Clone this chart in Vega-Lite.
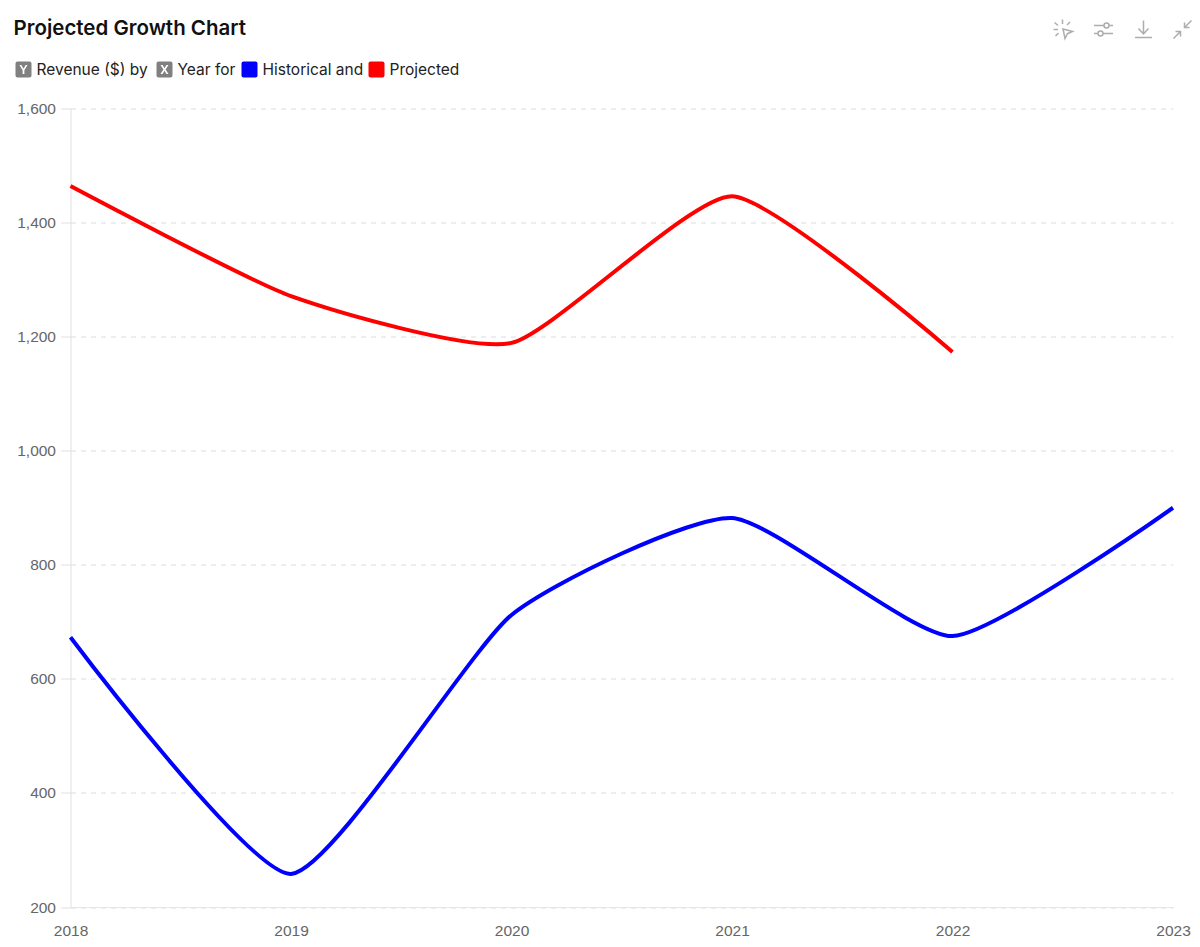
{
"$schema":"https://vega.github.io/schema/vega-lite/v6.json",
"width":1102.5,"height":798.5,
"autosize":{"type":"none"},
"padding":{"left":70.5,"top":108.5,"right":27,"bottom":40},
"background":"white",
"title":{"text":"Projected Growth Chart","anchor":"start","frame":"group","dx":-57,"dy":41,"font":"Inter","fontSize":20.5,"fontWeight":600,"color":"#111111","baseline":"bottom","offset":0},
"config":{"view":{"stroke":null},"font":"Inter"},
"layer":[
{"data":{"values":[
{"year":"2018","revenue":673,"series":"Historical"},
{"year":"2019","revenue":258,"series":"Historical"},
{"year":"2020","revenue":712,"series":"Historical"},
{"year":"2021","revenue":882,"series":"Historical"},
{"year":"2022","revenue":675,"series":"Historical"},
{"year":"2023","revenue":900,"series":"Historical"},
{"year":"2018","revenue":1464,"series":"Projected"},
{"year":"2019","revenue":1271,"series":"Projected"},
{"year":"2020","revenue":1189,"series":"Projected"},
{"year":"2021","revenue":1446,"series":"Projected"},
{"year":"2022","revenue":1173,"series":"Projected"}
]},
"mark":{"type":"line","interpolate":"cardinal","tension":0.45,"strokeWidth":4,"clip":false},
"encoding":{
"x":{"field":"year","type":"ordinal","scale":{"type":"point","padding":0,"domain":["2018","2019","2020","2021","2022","2023"]},
"axis":{"title":null,"labelAngle":0,"ticks":false,"domain":true,"domainColor":"#e6e6e6","grid":false,"labelFont":"Liberation Sans","labelFontSize":15.5,"labelColor":"#666666","labelPadding":16,"labelBound":false,"labelFlush":false,"labelOverlap":false}},
"y":{"field":"revenue","type":"quantitative","scale":{"domain":[200,1600],"nice":false,"zero":false},
"axis":{"title":null,"values":[200,400,600,800,1000,1200,1400,1600],"format":",d","grid":true,"gridColor":"#dcdcdc","gridDash":[5,5],"gridWidth":1,"domain":true,"domainColor":"#e0e0e0","tickColor":"#e0e0e0","tickSize":10,"labelFont":"Liberation Sans","labelFontSize":15.5,"labelColor":"#666666","labelPadding":5}},
"color":{"field":"series","type":"nominal","scale":{"domain":["Historical","Projected"],"range":["#0000ff","#ff0000"]},
"legend":{"title":null,"orient":"none","legendX":171,"legendY":-47,"direction":"horizontal","gridAlign":"none","columns":2,"symbolType":"M-0.75,-1 L0.75,-1 Q1,-1 1,-0.75 L1,0.75 Q1,1 0.75,1 L-0.75,1 Q-1,1 -1,0.75 L-1,-0.75 Q-1,-1 -0.75,-1 Z","symbolSize":256,"symbolStrokeWidth":0,"labelFont":"Inter","labelFontSize":15.5,"labelColor":"#222222","labelExpr":"datum.label == 'Historical' ? 'Historical and' : datum.label","columnPadding":5,"labelOffset":5,"encode":{"symbols":{"update":{"fill":{"scale":"color","field":"value"}}}}}}
}},
{"data":{"values":[{"part":"Revenue ($) by"},{"part":"Year for"}]},
"mark":{"type":"point","filled":true,"opacity":0,"color":"#808080"},
"encoding":{"shape":{"field":"part","type":"nominal","scale":{"domain":["Revenue ($) by","Year for"],"range":[
"M-0.75,-1 L0.75,-1 Q1,-1 1,-0.75 L1,0.75 Q1,1 0.75,1 L-0.75,1 Q-1,1 -1,0.75 L-1,-0.75 Q-1,-1 -0.75,-1 Z M-0.5,-0.55 L-0.11,0.1 L-0.11,0.55 L0.11,0.55 L0.11,0.1 L0.5,-0.55 L0.27,-0.55 L0,-0.1 L-0.27,-0.55 Z",
"M-0.75,-1 L0.75,-1 Q1,-1 1,-0.75 L1,0.75 Q1,1 0.75,1 L-0.75,1 Q-1,1 -1,0.75 L-1,-0.75 Q-1,-1 -0.75,-1 Z M-0.5,-0.55 L-0.14,0 L-0.5,0.55 L-0.24,0.55 L0,0.17 L0.24,0.55 L0.5,0.55 L0.14,0 L0.5,-0.55 L0.24,-0.55 L0,-0.17 L-0.24,-0.55 Z"
]},
"legend":{"title":null,"orient":"none","legendX":-55,"legendY":-47,"direction":"horizontal","gridAlign":"none","columns":2,"symbolSize":256,"symbolFillColor":"#808080","symbolStrokeWidth":0,"symbolOpacity":1,"labelFont":"Inter","labelFontSize":15.5,"labelColor":"#222222","columnPadding":8,"labelOffset":5,"encode":{"symbols":{"update":{"opacity":{"value":1},"fill":{"value":"#808080"}}}}}}}},
{"data":{"values":[{"tool":"select"},{"tool":"tune"},{"tool":"download"},{"tool":"collapse"}]},
"mark":{"type":"point","opacity":0,"color":"#adadad"},
"encoding":{"shape":{"field":"tool","type":"nominal","scale":{"domain":["select","tune","download","collapse"],"range":[
"M-0.1,-1 L-0.1,-0.55 M-0.9,-0.7 L-0.55,-0.4 M0.65,-0.75 L0.35,-0.45 M-1,0 L-0.55,0 M-0.8,0.65 L-0.5,0.35 M-0.05,-0.05 L0.9,0.2 L0.4,0.42 L0.15,0.9 Z",
"M-0.95,-0.4 L0.05,-0.4 M0.55,-0.4 L0.95,-0.4 M0.55,-0.4 A0.25,0.25 0 1 1 0.05,-0.4 A0.25,0.25 0 1 1 0.55,-0.4 M-0.95,0.4 L-0.55,0.4 M-0.05,0.4 L0.95,0.4 M-0.05,0.4 A0.25,0.25 0 1 1 -0.55,0.4 A0.25,0.25 0 1 1 -0.05,0.4",
"M0,-0.9 L0,0.4 M-0.5,-0.1 L0,0.45 L0.5,-0.1 M-0.85,0.8 L0.85,0.8",
"M0.9,-0.9 L0.2,-0.2 M0.2,-0.7 L0.2,-0.2 L0.7,-0.2 M-0.9,0.9 L-0.2,0.2 M-0.7,0.2 L-0.2,0.2 L-0.2,0.7"
]},
"legend":{"title":null,"orient":"none","legendX":982,"legendY":-90,"direction":"horizontal","columns":4,"gridAlign":"none","symbolSize":400,"labelExpr":"''","labelFontSize":1,"labelOffset":0,"columnPadding":15,"encode":{"symbols":{"update":{"opacity":{"value":1},"fill":{"value":"transparent"},"stroke":{"value":"#adadad"},"strokeWidth":{"value":1.5}}}}}}}}
],
"resolve":{"scale":{"shape":"independent"}}
}
